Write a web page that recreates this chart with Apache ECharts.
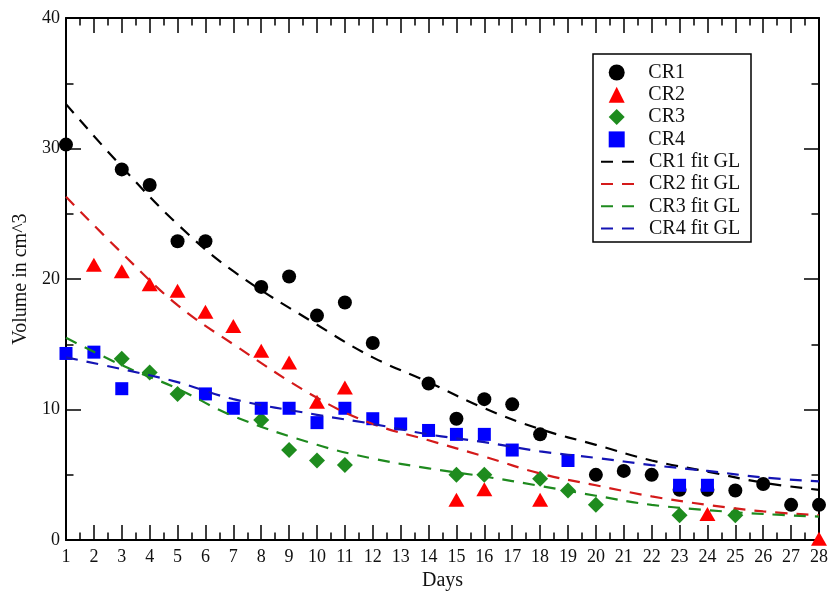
<!DOCTYPE html>
<html>
<head>
<meta charset="utf-8">
<script src="https://cdn.jsdelivr.net/npm/echarts@6/dist/echarts.min.js"></script>
<style>
  html, body { margin: 0; padding: 0; background: #fff; }
  #chart { width: 831px; height: 596px; }
</style>
</head>
<body>
<div id="chart"></div>
<script>
// Measured tumour volumes (cm^3) per day for each group
const cr1Days = [1, 3, 4, 5, 6, 8, 9, 10, 11, 12, 14, 15, 16, 17, 18, 20, 21, 22, 23, 24, 25, 26, 27, 28];
const cr1Vals = [30.3, 28.4, 27.2, 22.9, 22.9, 19.4, 20.2, 17.2, 18.2, 15.1, 12.0, 9.3, 10.8, 10.4, 8.1, 5.0, 5.3, 5.0, 3.85, 3.85, 3.8, 4.3, 2.7, 2.7];

const cr2Days = [2, 3, 4, 5, 6, 7, 8, 9, 10, 11, 15, 16, 18, 24, 28];
const cr2Vals = [21.1, 20.6, 19.6, 19.1, 17.5, 16.4, 14.5, 13.6, 10.6, 11.7, 3.1, 3.9, 3.1, 2.0, 0.1];

const cr3Days = [3, 4, 5, 8, 9, 10, 11, 15, 16, 18, 19, 20, 23, 25];
const cr3Vals = [13.9, 12.85, 11.2, 9.2, 6.9, 6.1, 5.75, 5.0, 5.0, 4.7, 3.8, 2.7, 1.9, 1.9];

const cr4Days = [1, 2, 3, 6, 7, 8, 9, 10, 11, 12, 13, 14, 15, 16, 17, 19, 23, 24];
const cr4Vals = [14.3, 14.4, 11.6, 11.2, 10.1, 10.1, 10.1, 9.0, 10.1, 9.3, 8.9, 8.4, 8.1, 8.1, 6.9, 6.1, 4.2, 4.2];

// Fitted GL curves, sampled on these days
const fitDays = [1, 3, 5, 7, 10, 12, 14, 16, 18, 20, 22, 24, 26, 28];
const cr1Fit = [33.4, 28.6, 24.2, 20.6, 16.5, 14.0, 12.1, 10.1, 8.5, 7.3, 6.1, 5.25, 4.4, 3.85];
const cr2Fit = [26.3, 22.0, 18.0, 15.0, 10.9, 8.9, 7.65, 6.4, 5.1, 4.2, 3.35, 2.7, 2.2, 1.9];
const cr3Fit = [15.5, 13.4, 11.6, 9.5, 7.3, 6.25, 5.5, 4.87, 4.15, 3.4, 2.7, 2.3, 2.0, 1.8];
const cr4Fit = [14.0, 13.1, 12.1, 10.8, 9.6, 8.9, 8.1, 7.5, 6.8, 6.3, 5.75, 5.3, 4.8, 4.5];

// Axis ranges and labels
const xMin = 1, xMax = 28, xStep = 1;
const yMin = 0, yMax = 40, yStep = 10;
const xTitle = 'Days';
const yTitle = 'Volume in cm^3';

const pairs = (xs, ys) => xs.map((x, i) => [x, ys[i]]);

const FONT = '"Liberation Serif", "DejaVu Serif", serif';
const INK = '#111';

const tickCommon = {
  axisLine: { onZero: false, lineStyle: { color: '#000', width: 2 } },
  axisTick: { inside: true, length: 15, lineStyle: { color: '#000', width: 1.5 } },
  minorTick: { show: true, splitNumber: 2, length: 7.5, lineStyle: { color: '#000', width: 1.5 } },
  splitLine: { show: false },
  minorSplitLine: { show: false }
};

const dash = [12, 9];

const option = {
  backgroundColor: '#fff',
  animation: false,
  textStyle: { fontFamily: FONT },
  grid: { left: 66, right: 11, top: 18, bottom: 52 },
  xAxis: [
    Object.assign({
      type: 'value', min: xMin, max: xMax, interval: xStep, position: 'bottom',
      axisLabel: { color: INK, fontFamily: FONT, fontSize: 18, margin: 8 },
      name: xTitle, nameLocation: 'middle', nameGap: 29,
      nameTextStyle: { color: INK, fontFamily: FONT, fontSize: 20 }
    }, tickCommon),
    Object.assign({
      type: 'value', min: xMin, max: xMax, interval: xStep, position: 'top',
      axisLabel: { show: false }
    }, tickCommon)
  ],
  yAxis: [
    Object.assign({
      type: 'value', min: yMin, max: yMax, interval: yStep, position: 'left',
      axisLabel: { color: INK, fontFamily: FONT, fontSize: 18, margin: 6 },
      name: yTitle, nameLocation: 'middle', nameGap: 31,
      nameTextStyle: { color: INK, fontFamily: FONT, fontSize: 20 }
    }, tickCommon),
    Object.assign({
      type: 'value', min: yMin, max: yMax, interval: yStep, position: 'right',
      axisLabel: { show: false }
    }, tickCommon)
  ],
  legend: [
    {
      data: ['CR1', 'CR2', 'CR3', 'CR4'],
      orient: 'vertical', left: 608.7, top: 61.5, padding: 0,
      itemWidth: 16, itemHeight: 16, itemGap: 0.3,
      selectedMode: false,
      itemStyle: { opacity: 1 },
      textStyle: { color: INK, fontFamily: FONT, fontSize: 20, lineHeight: 22, padding: [0, 0, 0, 18.6] }
    },
    {
      data: ['CR1 fit GL', 'CR2 fit GL', 'CR3 fit GL', 'CR4 fit GL'],
      orient: 'vertical', left: 600, top: 150.7, padding: 0,
      itemWidth: 33, itemHeight: 14, itemGap: 0.3,
      selectedMode: false,
      itemStyle: { opacity: 0 },
      textStyle: { color: INK, fontFamily: FONT, fontSize: 20, lineHeight: 22, padding: [0, 0, 0, 10] }
    }
  ],
  graphic: [
    {
      type: 'rect', z: 0,
      shape: { x: 593, y: 54, width: 158, height: 188 },
      style: { fill: '#fff', stroke: '#000', lineWidth: 1.5 }
    }
  ],
  series: [
    { name: 'CR1', type: 'scatter', clip: false, symbol: 'circle', symbolSize: 14,
      itemStyle: { color: '#000', opacity: 1 }, data: pairs(cr1Days, cr1Vals) },
    { name: 'CR2', type: 'scatter', clip: false, symbol: 'triangle', symbolSize: [16, 14],
      itemStyle: { color: '#ff0000', opacity: 1 }, data: pairs(cr2Days, cr2Vals) },
    { name: 'CR3', type: 'scatter', clip: false, symbol: 'diamond', symbolSize: 16,
      itemStyle: { color: '#1e8c1e', opacity: 1 }, data: pairs(cr3Days, cr3Vals) },
    { name: 'CR4', type: 'scatter', clip: false, symbol: 'rect', symbolSize: 13,
      itemStyle: { color: '#0000ff', opacity: 1 }, data: pairs(cr4Days, cr4Vals) },
    { name: 'CR1 fit GL', type: 'line', smooth: 0.4, symbol: 'none',
      itemStyle: { color: '#000' }, lineStyle: { color: '#000', width: 2.2, type: dash },
      data: pairs(fitDays, cr1Fit) },
    { name: 'CR2 fit GL', type: 'line', smooth: 0.4, symbol: 'none',
      itemStyle: { color: '#d41a1a' }, lineStyle: { color: '#d41a1a', width: 2.2, type: dash },
      data: pairs(fitDays, cr2Fit) },
    { name: 'CR3 fit GL', type: 'line', smooth: 0.4, symbol: 'none',
      itemStyle: { color: '#1e8a1e' }, lineStyle: { color: '#1e8a1e', width: 2.2, type: dash },
      data: pairs(fitDays, cr3Fit) },
    { name: 'CR4 fit GL', type: 'line', smooth: 0.4, symbol: 'none',
      itemStyle: { color: '#1414b4' }, lineStyle: { color: '#1414b4', width: 2.2, type: dash },
      data: pairs(fitDays, cr4Fit) }
  ]
};

const chart = echarts.init(document.getElementById('chart'), null, { renderer: 'canvas' });
chart.setOption(option);
</script>
</body>
</html>
